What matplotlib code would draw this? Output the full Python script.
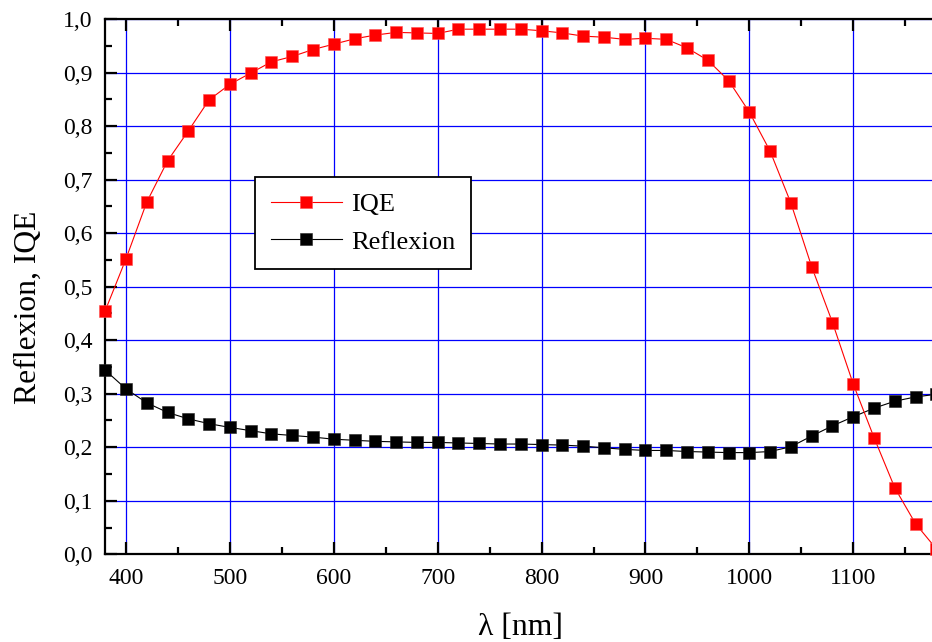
import matplotlib
matplotlib.use("Agg")
import matplotlib.pyplot as plt
from matplotlib.ticker import MultipleLocator, FuncFormatter

plt.rcParams['font.family'] = ['Liberation Serif', 'DejaVu Serif']

# wavelength grid (nm)
wavelength = [380, 400, 420, 440, 460, 480, 500, 520, 540, 560, 580, 600, 620, 640,
              660, 680, 700, 720, 740, 760, 780, 800, 820, 840, 860, 880, 900, 920,
              940, 960, 980, 1000, 1020, 1040, 1060, 1080, 1100, 1120, 1140, 1160, 1180]

iqe = [0.455, 0.552, 0.658, 0.735, 0.791, 0.849, 0.878, 0.899, 0.920, 0.930, 0.943,
       0.953, 0.963, 0.970, 0.975, 0.974, 0.973, 0.981, 0.981, 0.981, 0.981, 0.978,
       0.974, 0.968, 0.966, 0.962, 0.964, 0.962, 0.946, 0.923, 0.885, 0.826, 0.753,
       0.656, 0.537, 0.433, 0.318, 0.218, 0.124, 0.057, 0.010]

reflexion = [0.344, 0.309, 0.283, 0.265, 0.253, 0.244, 0.237, 0.231, 0.225, 0.222,
             0.219, 0.215, 0.213, 0.211, 0.210, 0.209, 0.209, 0.208, 0.207, 0.206,
             0.206, 0.205, 0.204, 0.202, 0.199, 0.196, 0.194, 0.194, 0.192, 0.191,
             0.190, 0.190, 0.192, 0.201, 0.221, 0.240, 0.257, 0.273, 0.286, 0.294, 0.299]

fig = plt.figure(figsize=(9.32, 6.42), dpi=100)
# right edge of the frame sits just past the canvas, as in the original export
ax = fig.add_axes([0.1129, 0.1366, 0.8918, 0.8338])

ax.plot(wavelength, reflexion, color='black', lw=0.8, marker='s', ms=8.6,
        mfc='black', mec='#222222', mew=0.4, label='Reflexion', zorder=3, clip_on=False)
ax.plot(wavelength, iqe, color='#ff0000', lw=0.8, marker='s', ms=8.6,
        mfc='#ff0000', mec='#ff5050', mew=0.4, label='IQE', zorder=4, clip_on=False)

ax.set_xlim(380, 1180)
ax.set_ylim(0, 1.0)

ax.xaxis.set_major_locator(MultipleLocator(100))
ax.xaxis.set_minor_locator(MultipleLocator(50))
ax.yaxis.set_major_locator(MultipleLocator(0.1))
ax.yaxis.set_minor_locator(MultipleLocator(0.05))
ax.yaxis.set_major_formatter(FuncFormatter(lambda v, p: f"{v:.1f}".replace('.', ',')))

ax.grid(True, which='major', color='#0000ff', lw=0.9, zorder=1)
ax.set_axisbelow(True)

for s in ax.spines.values():
    s.set_linewidth(1.6)
ax.spines['right'].set_visible(False)

ax.tick_params(which='both', direction='in', top=True, right=False, width=1.6,
               labelsize=17, colors='black')
ax.tick_params(which='major', length=8.5)
ax.tick_params(which='minor', length=4.7)
ax.tick_params(axis='y', pad=9)
ax.tick_params(axis='x', pad=10)

ax.set_xlabel('λ [nm]', fontsize=22.8, labelpad=17)
ax.set_ylabel('Reflexion, IQE', fontsize=22.8)
ax.yaxis.set_label_coords(-0.075, 0.462)

handles, labels = ax.get_legend_handles_labels()
leg = ax.legend(handles[::-1], labels[::-1], loc='upper left',
                bbox_to_anchor=(255 / 932, 1 - 177 / 642), bbox_transform=fig.transFigure,
                fontsize=19, frameon=True, fancybox=False, framealpha=1,
                edgecolor='black', borderpad=0.6, handlelength=2.7,
                handletextpad=0.35, labelspacing=0.52, borderaxespad=0)
leg.get_frame().set_linewidth(1.3)

fig.savefig('out.png', dpi=100)
